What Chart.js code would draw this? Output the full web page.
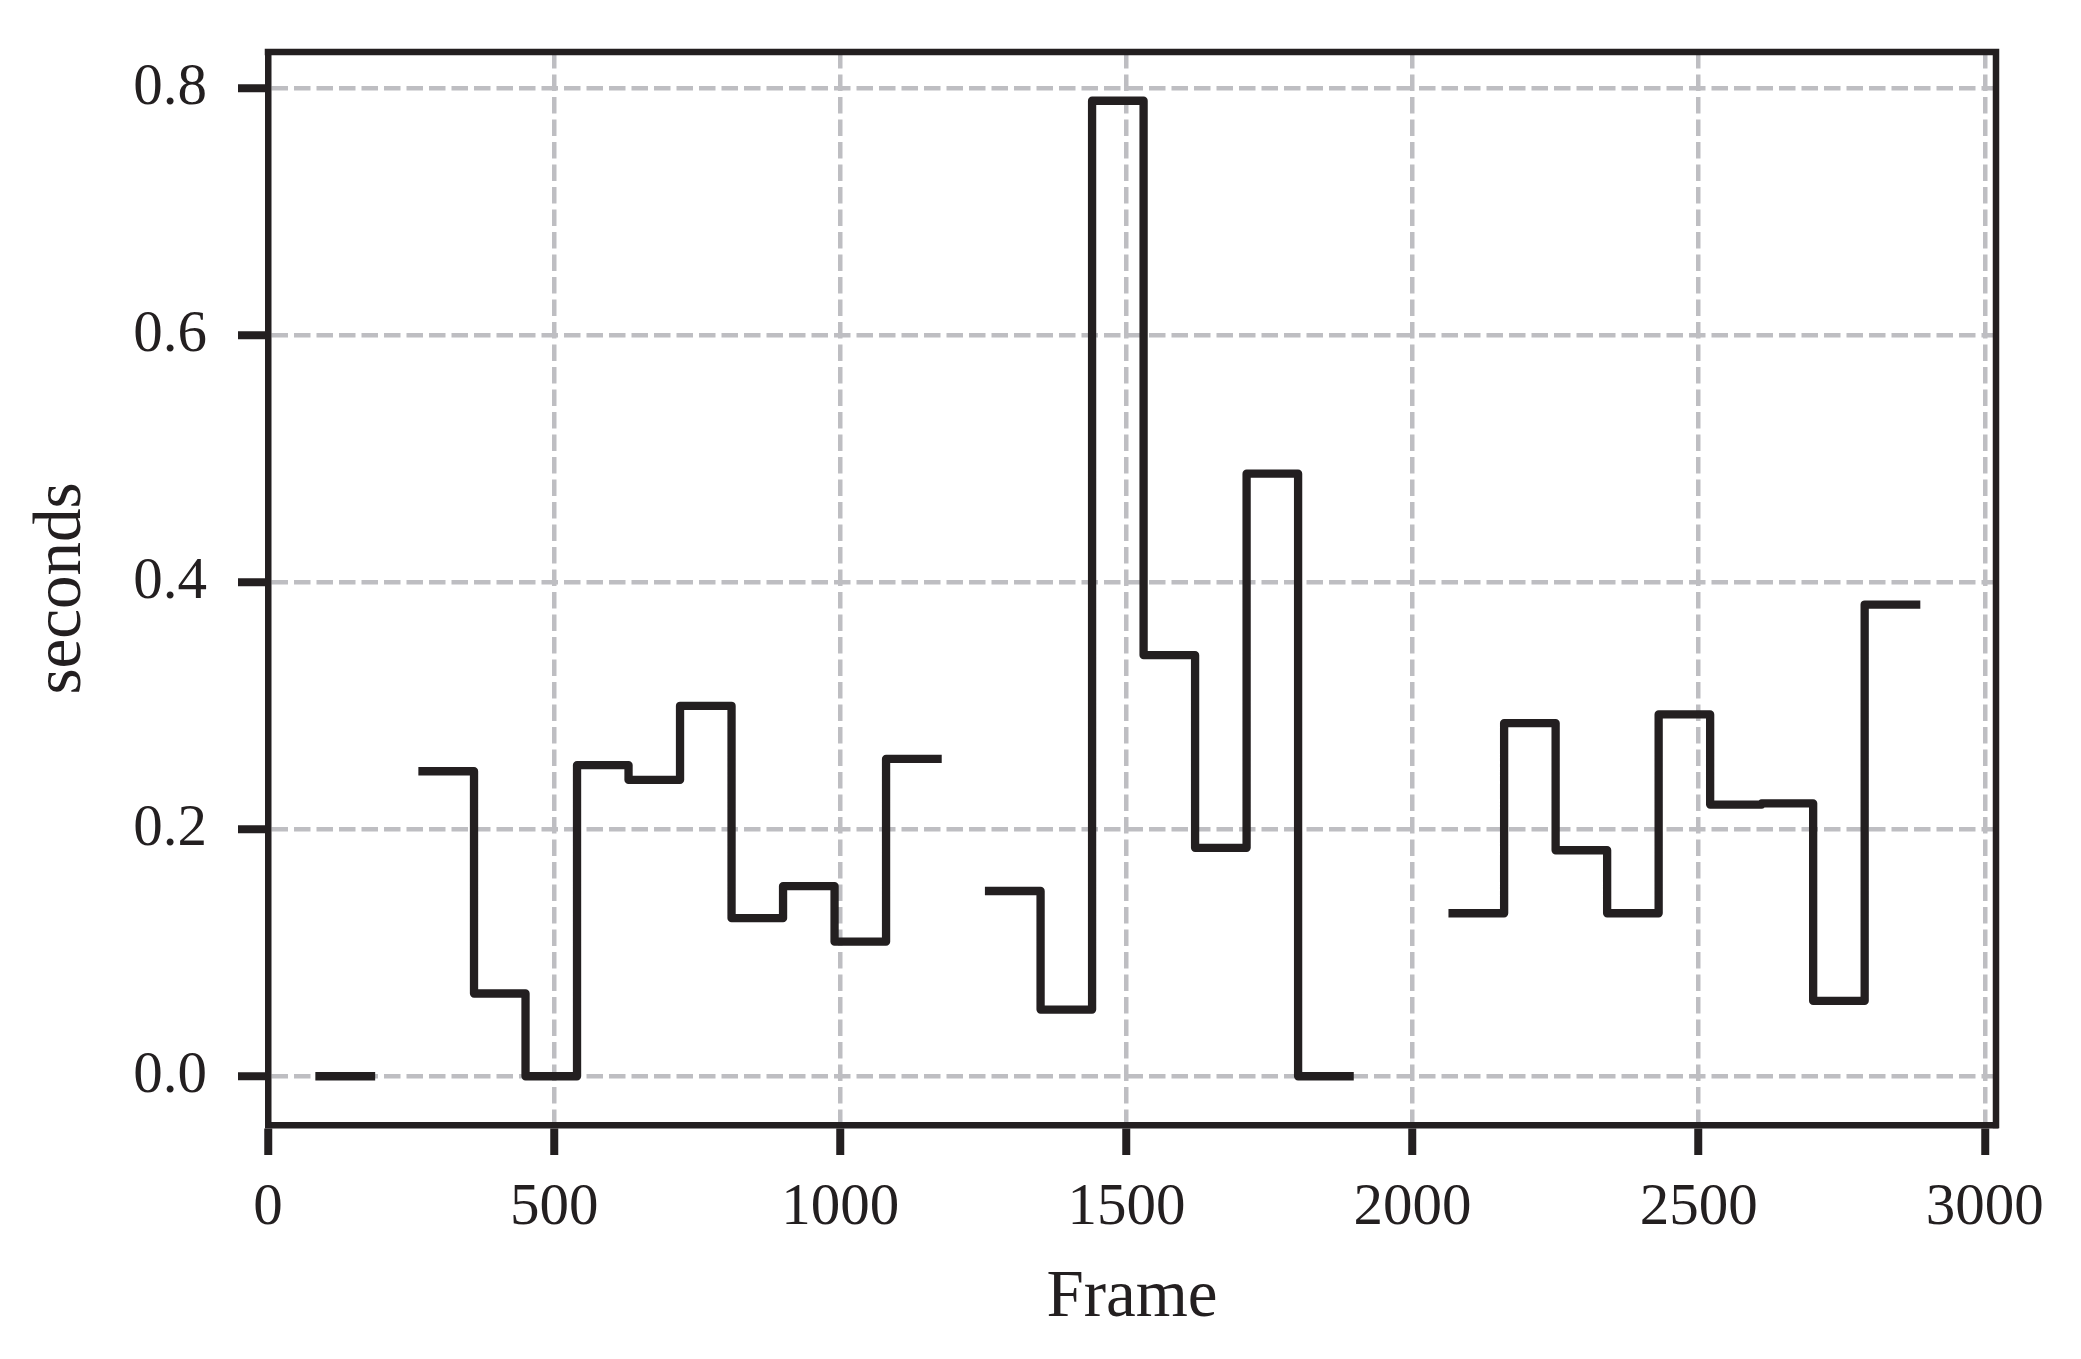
<!DOCTYPE html>
<html>
<head>
<meta charset="utf-8">
<title>Frame timing</title>
<script src="https://cdn.jsdelivr.net/npm/chart.js@4.4.1/dist/chart.umd.min.js"></script>
<style>
    html, body { margin: 0; padding: 0; background: #fff; }
    #wrap { width: 2081px; height: 1359px; }
</style>
</head>
<body>
<div id="wrap"><canvas id="chart" width="2081" height="1359"></canvas></div>
<script>
// step edges (frame numbers), one more than the values
var stepEdges = [90, 180, 270, 360, 450, 540, 630, 720, 810, 900, 990, 1080, 1170, 1260, 1350, 1440,
    1530, 1620, 1710, 1800, 1890, 1980, 2070, 2160, 2250, 2340, 2430, 2520, 2610, 2700, 2790, 2880];

// seconds for each step, null = no data
var seconds = [0.0, null, 0.247, 0.067, 0.0, 0.252, 0.240, 0.300, 0.128, 0.154, 0.109, 0.257, null,
    0.150, 0.054, 0.790, 0.341, 0.185, 0.488, 0.0, null, null,
    0.132, 0.286, 0.183, 0.132, 0.293, 0.220, 0.221, 0.061, 0.382];

var xTicks = [0, 500, 1000, 1500, 2000, 2500, 3000];
var yTicks = [0.0, 0.2, 0.4, 0.6, 0.8];

var ink = '#231f20';
var gridGrey = '#bebec2';

var points = [];
for (var i = 0; i < seconds.length; i++) {
    if (seconds[i] === null) {
        points.push({ x: stepEdges[i], y: null });
        continue;
    }
    points.push({ x: stepEdges[i], y: seconds[i] });
    if (i === seconds.length - 1 || seconds[i + 1] === null) {
        points.push({ x: stepEdges[i + 1], y: seconds[i] });
    }
}

// top and right spines
var boxPlugin = {
    id: 'box',
    afterDraw: function(chart) {
        var a = chart.chartArea;
        var ctx = chart.ctx;
        ctx.save();
        ctx.strokeStyle = ink;
        ctx.lineWidth = 6.5;
        ctx.lineCap = 'square';
        ctx.beginPath();
        ctx.moveTo(a.left, a.top);
        ctx.lineTo(a.right, a.top);
        ctx.lineTo(a.right, a.bottom);
        ctx.stroke();
        ctx.restore();
    }
};

var tickFont = { family: 'Liberation Serif', size: 59 };
var titleFont = { family: 'Liberation Serif', size: 67 };

new Chart(document.getElementById('chart').getContext('2d'), {
    type: 'line',
    data: {
        datasets: [{
            data: points,
            stepped: 'before',
            borderColor: ink,
            borderWidth: 8.3,
            borderCapStyle: 'square',
            borderJoinStyle: 'round',
            pointRadius: 0,
            fill: false,
            spanGaps: false
        }]
    },
    options: {
        responsive: false,
        animation: false,
        devicePixelRatio: 1,
        layout: { padding: { left: 0, top: 52, right: 85, bottom: 0 } },
        plugins: {
            legend: { display: false },
            tooltip: { enabled: false }
        },
        scales: {
            x: {
                type: 'linear',
                min: 0,
                max: 3019.5,
                afterFit: function(scale) {
                    scale.height = 234;
                    scale.paddingLeft = 0;
                    scale.paddingRight = 0;
                },
                afterBuildTicks: function(scale) {
                    scale.ticks = xTicks.map(function(v) { return { value: v }; });
                },
                ticks: {
                    stepSize: 500,
                    includeBounds: false,
                    autoSkip: false,
                    maxRotation: 0,
                    padding: 18,
                    color: ink,
                    font: tickFont,
                    callback: function(v) { return String(v); }
                },
                grid: {
                    color: gridGrey,
                    lineWidth: 4.5,
                    tickLength: 30,
                    tickWidth: 8,
                    tickColor: ink
                },
                border: { display: true, color: ink, width: 6.5, dash: [16.5, 6] },
                title: {
                    display: true,
                    text: 'Frame',
                    color: ink,
                    font: titleFont,
                    padding: { top: 0, bottom: 20 }
                }
            },
            y: {
                min: -0.0395,
                max: 0.8295,
                afterFit: function(scale) {
                    scale.width = 268;
                    scale.paddingTop = 0;
                    scale.paddingBottom = 0;
                },
                afterBuildTicks: function(scale) {
                    scale.ticks = yTicks.map(function(v) { return { value: v }; });
                },
                ticks: {
                    stepSize: 0.2,
                    includeBounds: false,
                    padding: 31,
                    color: ink,
                    font: tickFont,
                    callback: function(v) { return v.toFixed(1); }
                },
                grid: {
                    color: gridGrey,
                    lineWidth: 4.5,
                    tickLength: 30,
                    tickWidth: 8,
                    tickColor: ink
                },
                border: { display: true, color: ink, width: 6.5, dash: [16.5, 6] },
                title: {
                    display: true,
                    text: 'seconds',
                    color: ink,
                    font: titleFont,
                    padding: { top: 22, bottom: 0 }
                }
            }
        }
    },
    plugins: [boxPlugin]
});
</script>
</body>
</html>
